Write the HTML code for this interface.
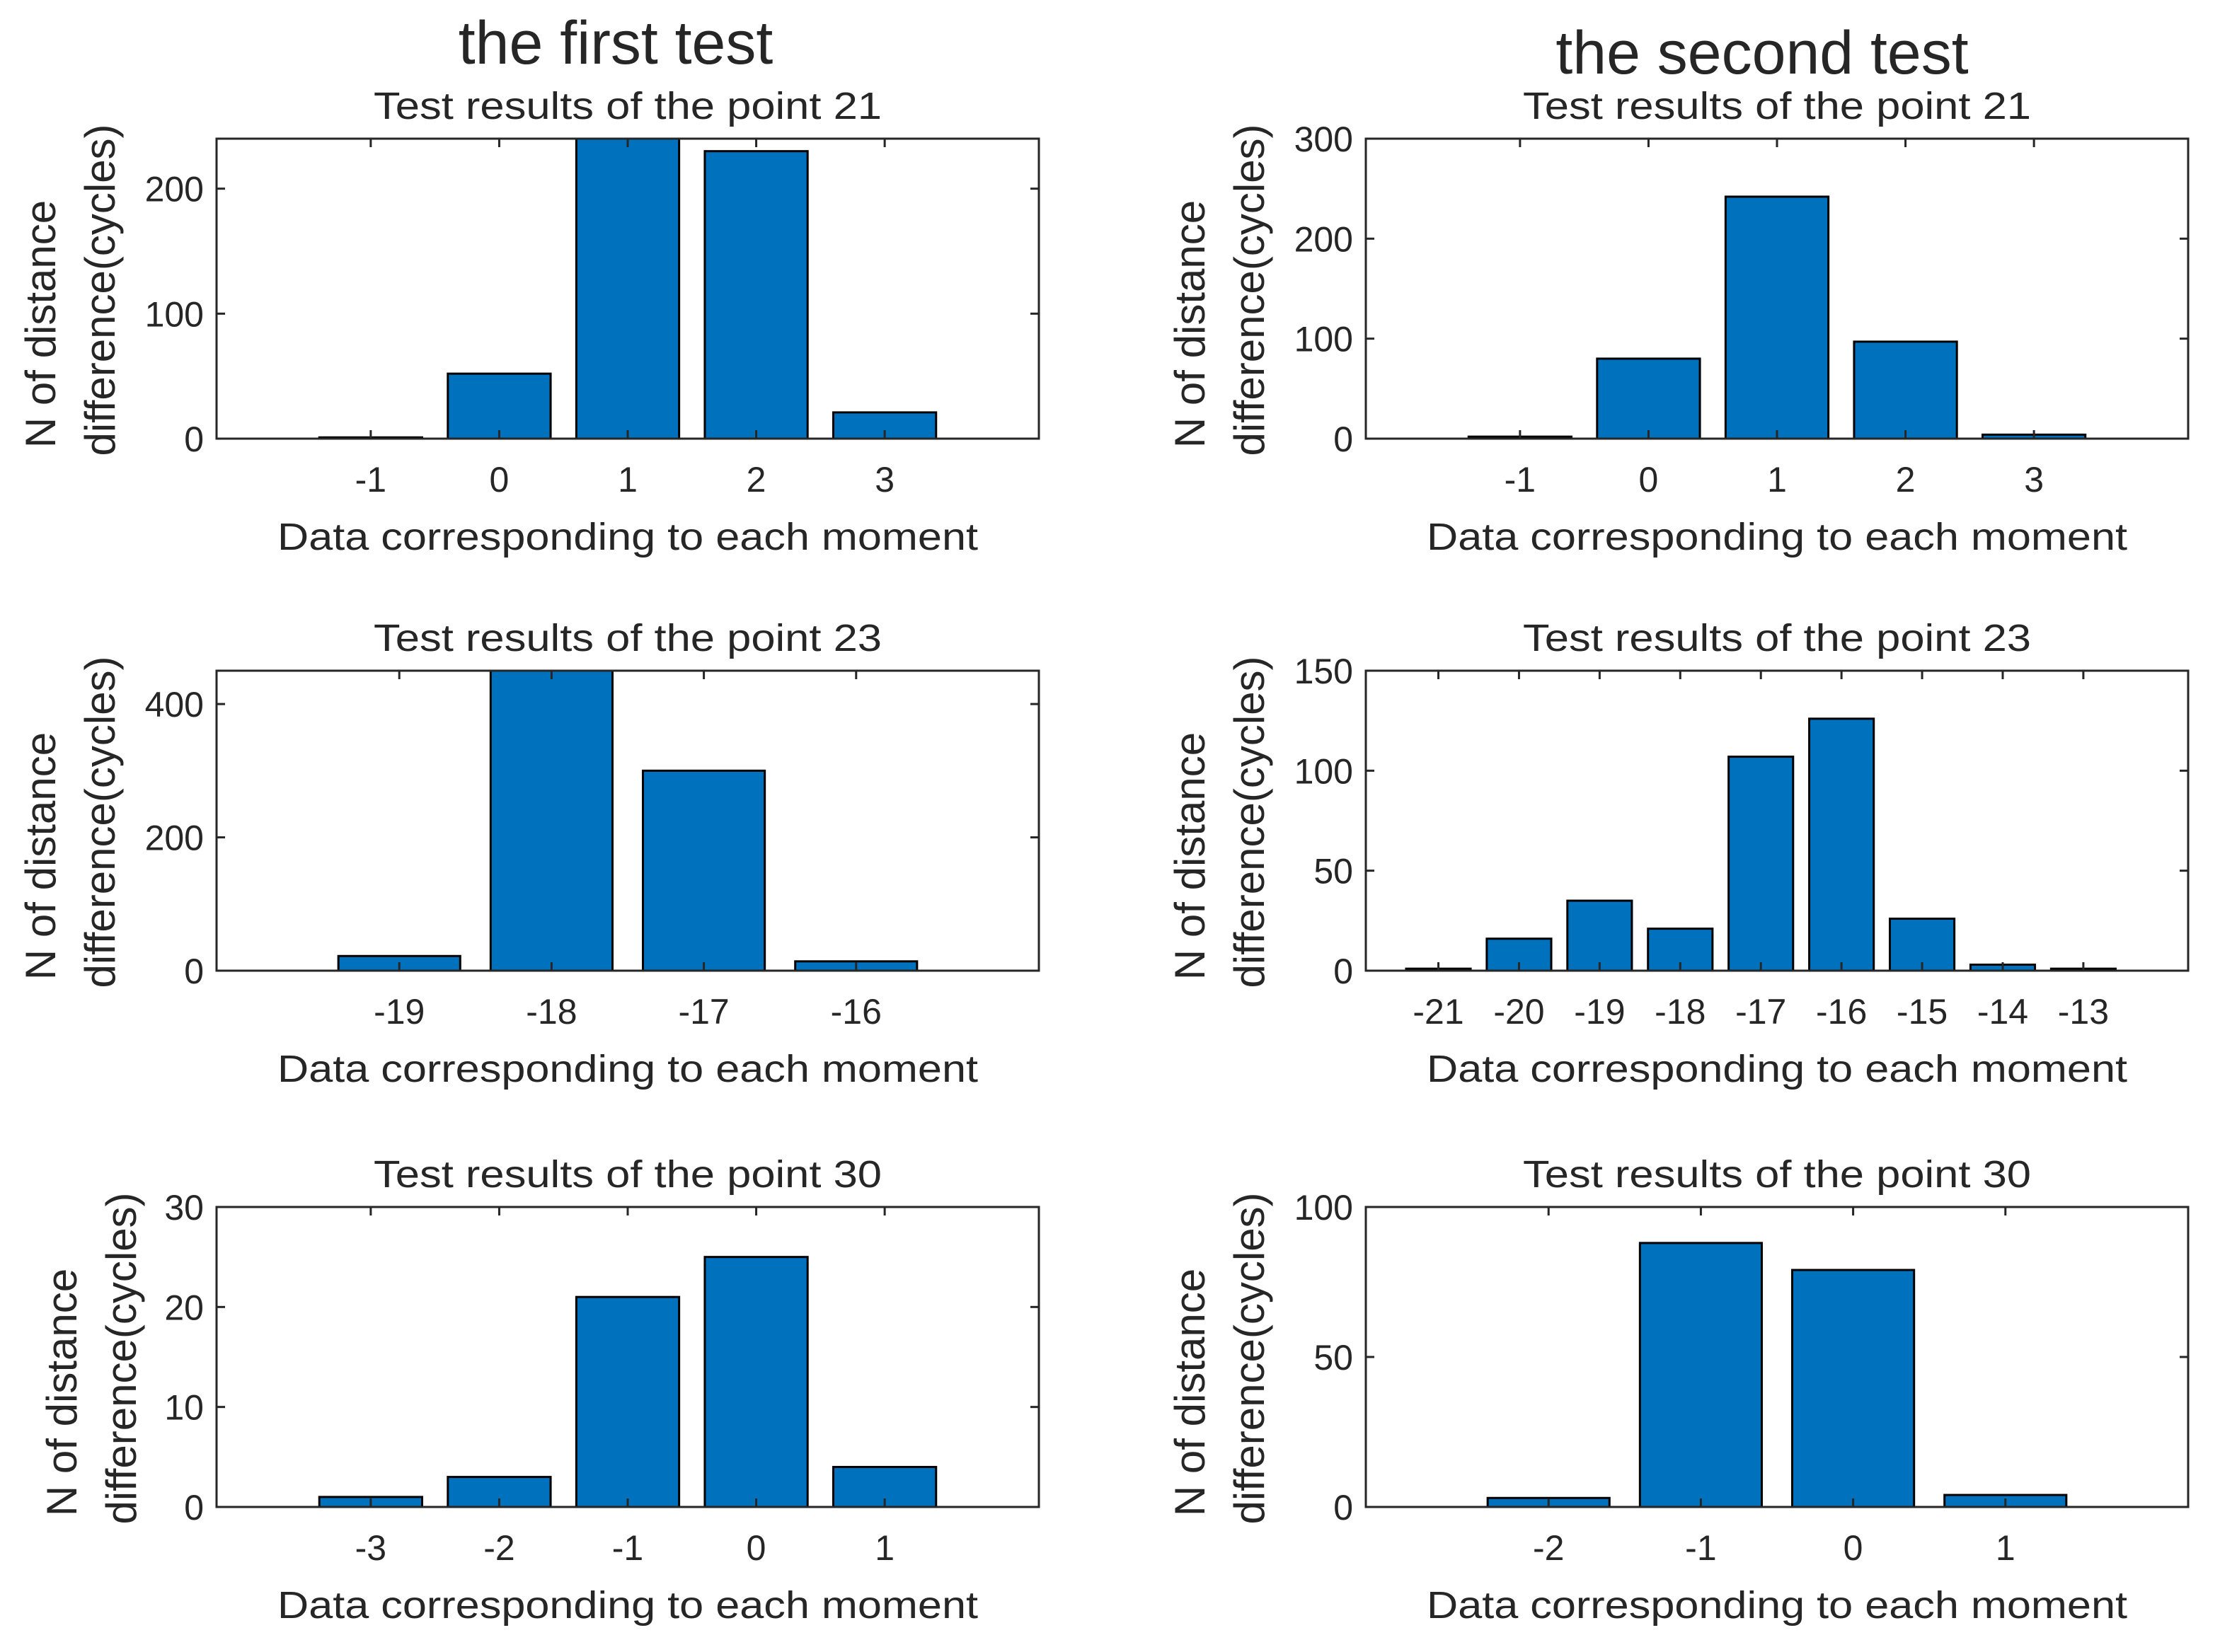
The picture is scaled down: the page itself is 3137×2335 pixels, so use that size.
<!DOCTYPE html>
<html><head><meta charset="utf-8"><style>
html,body{margin:0;padding:0;background:#fff}
svg{display:block}
text{font-family:"Liberation Sans",Arial,sans-serif;fill:#262626}
</style></head><body>
<svg id="fig" width="3137" height="2335" viewBox="0 0 3137 2335" xmlns="http://www.w3.org/2000/svg">
<text x="870" y="90" font-size="86" text-anchor="middle">the first test</text>
<text x="2490" y="104" font-size="86" text-anchor="middle">the second test</text>
</svg>
<script>
// Panel data
const p1Cats=[-1,0,1,2,3];      const p1Vals=[1,52,260,230,21];   const p1YTicks=[0,100,200];
const p2Cats=[-1,0,1,2,3];      const p2Vals=[2,80,242,97,4];     const p2YTicks=[0,100,200,300];
const p3Cats=[-19,-18,-17,-16]; const p3Vals=[22,500,300,14];     const p3YTicks=[0,200,400];
const p4Cats=[-21,-20,-19,-18,-17,-16,-15,-14,-13]; const p4Vals=[1,16,35,21,107,126,26,3,1]; const p4YTicks=[0,50,100,150];
const p5Cats=[-3,-2,-1,0,1];    const p5Vals=[1,3,21,25,4];       const p5YTicks=[0,10,20,30];
const p6Cats=[-2,-1,0,1];       const p6Vals=[3,88,79,4];         const p6YTicks=[0,50,100];

const NS='http://www.w3.org/2000/svg';
const svg=document.getElementById('fig');
function mk(tag,attrs,parent){const e=document.createElementNS(NS,tag);for(const k in attrs)e.setAttribute(k,attrs[k]);(parent||svg).appendChild(e);return e;}

const panels=[
 {id:'p1',cats:p1Cats,vals:p1Vals,yt:p1YTicks,ymax:240,xmin:-2.2,xmax:4.2,x0:306,x1:1468,y0:196,y1:620,title:'Test results of the point 21',lx:58},
 {id:'p2',cats:p2Cats,vals:p2Vals,yt:p2YTicks,ymax:300,xmin:-2.2,xmax:4.2,x0:1930,x1:3092,y0:196,y1:620,title:'Test results of the point 21',lx:1682},
 {id:'p3',cats:p3Cats,vals:p3Vals,yt:p3YTicks,ymax:450,xmin:-20.2,xmax:-14.8,x0:306,x1:1468,y0:948,y1:1372,title:'Test results of the point 23',lx:58},
 {id:'p4',cats:p4Cats,vals:p4Vals,yt:p4YTicks,ymax:150,xmin:-21.9,xmax:-11.7,x0:1930,x1:3092,y0:948,y1:1372,title:'Test results of the point 23',lx:1682},
 {id:'p5',cats:p5Cats,vals:p5Vals,yt:p5YTicks,ymax:30,xmin:-4.2,xmax:2.2,x0:306,x1:1468,y0:1706,y1:2130,title:'Test results of the point 30',lx:88},
 {id:'p6',cats:p6Cats,vals:p6Vals,yt:p6YTicks,ymax:100,xmin:-3.2,xmax:2.2,x0:1930,x1:3092,y0:1706,y1:2130,title:'Test results of the point 30',lx:1682}
];

panels.forEach(p=>{
  const g=mk('g',{});
  
  
  const xs=v=>p.x0+(v-p.xmin)/(p.xmax-p.xmin)*(p.x1-p.x0);
  const ys=v=>p.y1-Math.min(v,p.ymax*1.2)/p.ymax*(p.y1-p.y0);
  const cp=mk('clipPath',{id:'clip-'+p.id},g);
  mk('rect',{x:p.x0,y:p.y0,width:p.x1-p.x0,height:p.y1-p.y0},cp);
  const bg=mk('g',{'clip-path':'url(#clip-'+p.id+')'},g);
  p.cats.forEach((c,i)=>{
    const v=p.vals[i];
    const xl=xs(c-0.4), xr=xs(c+0.4), yt=ys(v);
    const r=mk('rect',{x:xl,y:yt,width:xr-xl,height:p.y1-yt,fill:'#0072BD',stroke:'#000','stroke-width':3},bg);
    
    
  });
  const box=mk('rect',{x:p.x0,y:p.y0,width:p.x1-p.x0,height:p.y1-p.y0,fill:'none',stroke:'#262626','stroke-width':3},g);
  
  
  p.cats.forEach(c=>{
    const x=xs(c);
    mk('line',{x1:x,x2:x,y1:p.y1,y2:p.y1-12,stroke:'#262626','stroke-width':3},g);
    mk('line',{x1:x,x2:x,y1:p.y0,y2:p.y0+12,stroke:'#262626','stroke-width':3},g);
    const t=mk('text',{x:x,y:p.y1+75,'font-size':50,'text-anchor':'middle'},g);
    t.textContent=String(c);
    
    
  });
  p.yt.forEach(v=>{
    const y=ys(v);
    mk('line',{x1:p.x0,x2:p.x0+12,y1:y,y2:y,stroke:'#262626','stroke-width':3},g);
    mk('line',{x1:p.x1,x2:p.x1-12,y1:y,y2:y,stroke:'#262626','stroke-width':3},g);
    const t=mk('text',{x:p.x0-18,y:y+18,'font-size':50,'text-anchor':'end'},g);
    t.textContent=v;
    
    
  });
  const cx=(p.x0+p.x1)/2, cy=(p.y0+p.y1)/2;
  const tt=mk('text',{x:cx,y:p.y0-28,'font-size':54,'text-anchor':'middle',textLength:718,lengthAdjust:'spacingAndGlyphs'},g);
  tt.textContent=p.title;
  
  
  const xl=mk('text',{x:cx,y:p.y1+157,'font-size':54,'text-anchor':'middle',textLength:990,lengthAdjust:'spacingAndGlyphs'},g);
  xl.textContent='Data corresponding to each moment';
  
  
  const yl=mk('text',{transform:'translate('+(p.lx+20)+','+(cy+2)+') rotate(-90)','font-size':60,'text-anchor':'middle',fill:'#333'},g);
  
  
  const s1=mk('tspan',{x:-48,y:0},yl); s1.textContent='N of distance';
  const s2=mk('tspan',{x:0,y:84},yl); s2.textContent='difference(cycles)';
});
</script>
</body></html>
